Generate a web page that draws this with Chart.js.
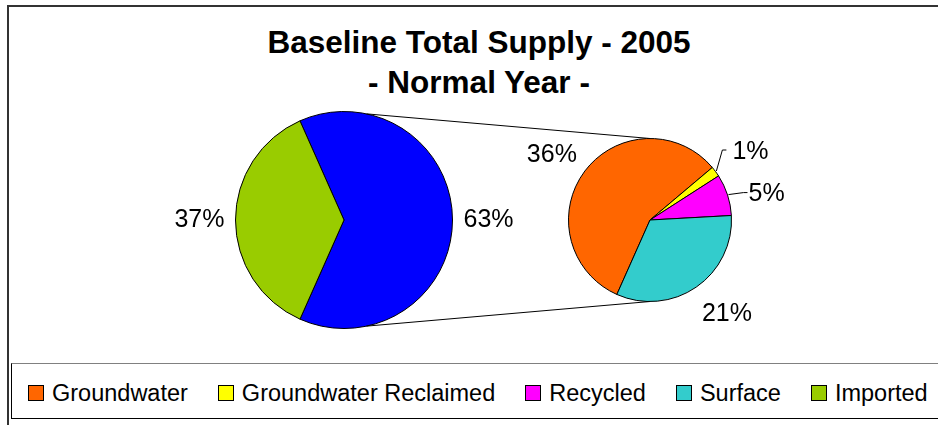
<!DOCTYPE html>
<html>
<head>
<meta charset="utf-8">
<script src="https://cdn.jsdelivr.net/npm/chart.js@4.4.1/dist/chart.umd.min.js"></script>
<style>
    html, body { margin: 0; padding: 0; background: #fff; }
    #wrap { position: relative; width: 938px; height: 425px; overflow: hidden; font-family: 'Liberation Sans', Arial, sans-serif; }
    #wrap canvas { position: absolute; left: 0; top: 0; }
    .frame-top { position: absolute; left: 7px; top: 5px; right: 0; height: 2px; background: #333; }
    .frame-left { position: absolute; left: 7px; top: 5px; bottom: 0; width: 2px; background: #333; }
    .title { position: absolute; left: 0; width: 958px; top: 22px; text-align: center; font-weight: bold; font-size: 31.5px; line-height: 40px; color: #000; }
    .legend-box { position: absolute; left: 11px; top: 363px; width: 940px; height: 56px; border: 1px solid #000; border-top-color: #808080; box-sizing: border-box; }
    .legend { position: absolute; left: 28px; top: 380px; height: 26px; display: flex; align-items: center; gap: 30px; font-size: 23.5px; white-space: nowrap; }
    .legend span.item { display: flex; align-items: center; }
    .legend i { display: inline-block; width: 14px; height: 14px; border: 1px solid #000; margin-right: 8px; }
</style>
</head>
<body>
<div id="wrap">
    <div class="frame-top"></div>
    <div class="frame-left"></div>
    <div class="title">Baseline Total Supply - 2005<br>- Normal Year -</div>
    <div class="legend-box"></div>
    <div class="legend" id="legend"></div>
    <canvas id="mainPie" width="938" height="425"></canvas>
    <canvas id="subPie" width="938" height="425"></canvas>
</div>
<script>
// data (percent of total supply)
const supplyLabels = ['Groundwater', 'Groundwater Reclaimed', 'Recycled', 'Surface'];
const supplyValues = [36.2, 1.3, 5.2, 20.6];
const importedLabel = 'Imported';
const importedValue = 36.7;

const supplyColors = ['#FF6600', '#FFFF00', '#FF00FF', '#33CCCC'];
const importedColor = '#99CC00';
const otherColor = '#0000FF';

const otherValue = supplyValues.reduce((a, b) => a + b, 0);
const grandTotal = otherValue + importedValue;
const pct = (v) => Math.round((v / grandTotal) * 100) + '%';

const LABEL_FONT = '25px "Liberation Sans", Arial, sans-serif';

// legend
document.getElementById('legend').innerHTML = supplyLabels
    .map((l, i) => ({ l, c: supplyColors[i] }))
    .concat([{ l: importedLabel, c: importedColor }])
    .map((it) => `<span class="item"><i style="background:${it.c}"></i>${it.l}</span>`)
    .join('');

// outside labels; small slices get a leader line
const pieLabels = {
    id: 'pieLabels',
    afterDatasetsDraw(chart, args, opts) {
        const ctx = chart.ctx;
        const arcs = chart.getDatasetMeta(0).data;
        const values = chart.data.datasets[0].data;
        ctx.save();
        ctx.font = LABEL_FONT;
        ctx.fillStyle = '#000';
        ctx.strokeStyle = '#000';
        ctx.lineWidth = 1;
        arcs.forEach((arc, i) => {
            const mid = (arc.startAngle + arc.endAngle) / 2;
            const dx = Math.cos(mid), dy = Math.sin(mid);
            const r = arc.outerRadius;
            const lead = opts.leaders && opts.leaders[i];
            if (lead) {
                const ex = arc.x + (r + 1) * dx, ey = arc.y + (r + 1) * dy;
                const kx = ex + lead[0], ky = ey + lead[1];
                ctx.beginPath();
                ctx.moveTo(ex, ey);
                ctx.lineTo(kx, ky);
                ctx.lineTo(kx + 4, ky);
                ctx.stroke();
                ctx.textAlign = 'left';
                ctx.textBaseline = 'middle';
                ctx.fillText(pct(values[i]), kx + lead[2], ky + 2);
                return;
            }
            const d = opts.gap || 12;
            const px = arc.x + (r + d) * dx, py = arc.y + (r + d) * dy;
            ctx.textAlign = dx > 0.05 ? 'left' : dx < -0.05 ? 'right' : 'center';
            ctx.textBaseline = dy < -0.3 ? 'bottom' : dy > 0.3 ? 'top' : 'middle';
            ctx.fillText(pct(values[i]), px, py + (dy > 0.3 ? 6 : dy < -0.3 ? 3 : 0));
        });
        ctx.restore();
    },
};

const baseOptions = {
    responsive: false,
    animation: false,
    devicePixelRatio: 1,
    events: [],
    plugins: { legend: { display: false }, tooltip: { enabled: false }, title: { display: false } },
};

const mainChart = new Chart(document.getElementById('mainPie'), {
    type: 'pie',
    data: {
        labels: ['Other', importedLabel],
        datasets: [{
            data: [otherValue, importedValue],
            backgroundColor: [otherColor, importedColor],
            borderColor: '#000',
            borderWidth: 1,
            hoverOffset: 0,
        }],
    },
    options: {
        ...baseOptions,
        rotation: 90 - (otherValue / grandTotal) * 180,
        layout: { padding: { left: 235, right: 485, top: 111, bottom: 96 } },
        plugins: { ...baseOptions.plugins, pieLabels: { gap: 11 } },
    },
    plugins: [pieLabels],
});

// lines joining the two pies
const connectors = {
    id: 'connectors',
    beforeDatasetsDraw(chart) {
        const a = mainChart.getDatasetMeta(0).data[0];
        const b = chart.getDatasetMeta(0).data[0];
        const t = (12 * Math.PI) / 180;
        const ctx = chart.ctx;
        ctx.save();
        ctx.strokeStyle = '#000';
        ctx.lineWidth = 1;
        ctx.beginPath();
        ctx.moveTo(a.x + a.outerRadius * Math.sin(t), a.y - a.outerRadius * Math.cos(t));
        ctx.lineTo(b.x, b.y - b.outerRadius);
        ctx.moveTo(a.x + a.outerRadius * Math.sin(t), a.y + a.outerRadius * Math.cos(t));
        ctx.lineTo(b.x, b.y + b.outerRadius);
        ctx.stroke();
        ctx.restore();
    },
};

new Chart(document.getElementById('subPie'), {
    type: 'pie',
    data: {
        labels: supplyLabels,
        datasets: [{
            data: supplyValues,
            backgroundColor: supplyColors,
            borderColor: '#000',
            borderWidth: 1,
            hoverOffset: 0,
        }],
    },
    options: {
        ...baseOptions,
        rotation: 204,
        layout: { padding: { left: 568, right: 206, top: 138, bottom: 123 } },
        plugins: { ...baseOptions.plugins, pieLabels: { gap: 10, leaders: [null, [6, -21, 10], [15, -2, 5], null] } },
    },
    plugins: [pieLabels, connectors],
});
</script>
</body>
</html>
